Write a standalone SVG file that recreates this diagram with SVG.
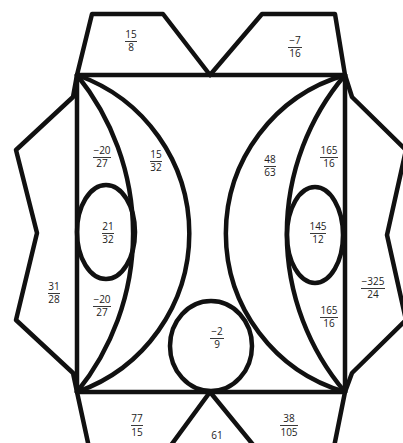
<svg xmlns="http://www.w3.org/2000/svg" width="403" height="443" viewBox="0 0 403 443">
<style>
.ln{fill:none;stroke:#111;stroke-width:4.5;stroke-linejoin:round;stroke-linecap:round}
.t{font-family:"Open Sans","Noto Sans",sans-serif;font-size:10px;fill:#222;text-anchor:middle}
.bar{stroke:#222;stroke-width:0.9}
</style>
<defs>
<clipPath id="c"><rect x="0" y="0" width="403" height="443"/></clipPath>
</defs>
<rect width="403" height="443" fill="#fff"/>
<g id="connectors" clip-path="url(#c)">
<polyline class="ln" points="77,75 92,14 163,14 210,75"/>
<polyline class="ln" points="210,75 262,14 335,14 345,75"/>
<polyline class="ln" points="77,75 73,97 16,150 37,233 16,320 73,373 77,392"/>
<polyline class="ln" points="345,75 352,97 406,150 387,235 406,320 352,373 345,392"/>
<line class="ln" x1="77" y1="392" x2="90" y2="452"/>
<line class="ln" x1="210" y1="392" x2="166" y2="452"/>
<line class="ln" x1="210" y1="392" x2="259" y2="452"/>
<line class="ln" x1="345" y1="392" x2="333" y2="452"/>
<rect class="ln" x="77" y="75" width="268" height="317"/>
<path class="ln" d="M77,75 A252,252 0 0 1 77,392"/>
<path class="ln" d="M77,75 A168,168 0 0 1 77,392"/>
<path class="ln" d="M345,75 A245,245 0 0 0 345,392"/>
<path class="ln" d="M345,75 A165,165 0 0 0 345,392"/>
<ellipse class="ln" cx="106" cy="232" rx="29" ry="47"/>
<ellipse class="ln" cx="315" cy="235" rx="28" ry="48"/>
<ellipse class="ln" cx="211" cy="346" rx="41" ry="45"/>
</g>
<g id="n-top-left"><text class="t" x="131" y="38">15</text><line class="bar" x1="125" y1="41.5" x2="137" y2="41.5"/><text class="t" x="131" y="51">8</text></g>
<g id="n-top-right"><text class="t" x="295" y="44">−7</text><line class="bar" x1="288" y1="47.5" x2="302" y2="47.5"/><text class="t" x="295" y="57">16</text></g>
<g id="n-l1"><text class="t" x="102" y="154">−20</text><line class="bar" x1="93" y1="157.5" x2="111" y2="157.5"/><text class="t" x="102" y="167">27</text></g>
<g id="n-l2"><text class="t" x="156" y="158">15</text><line class="bar" x1="150" y1="161.5" x2="162" y2="161.5"/><text class="t" x="156" y="171">32</text></g>
<g id="n-r2"><text class="t" x="270" y="163">48</text><line class="bar" x1="264" y1="166.5" x2="276" y2="166.5"/><text class="t" x="270" y="176">63</text></g>
<g id="n-r1"><text class="t" x="329" y="154">165</text><line class="bar" x1="320" y1="157.5" x2="338" y2="157.5"/><text class="t" x="329" y="167">16</text></g>
<g id="n-el-left"><text class="t" x="108" y="230">21</text><line class="bar" x1="102" y1="233.5" x2="114" y2="233.5"/><text class="t" x="108" y="243">32</text></g>
<g id="n-el-right"><text class="t" x="318" y="230">145</text><line class="bar" x1="310" y1="233.5" x2="326" y2="233.5"/><text class="t" x="318" y="243">12</text></g>
<g id="n-left"><text class="t" x="54" y="290">31</text><line class="bar" x1="48" y1="293.5" x2="60" y2="293.5"/><text class="t" x="54" y="303">28</text></g>
<g id="n-l3"><text class="t" x="102" y="303">−20</text><line class="bar" x1="93" y1="306.5" x2="111" y2="306.5"/><text class="t" x="102" y="316">27</text></g>
<g id="n-right"><text class="t" x="373" y="285">−325</text><line class="bar" x1="361" y1="288.5" x2="385" y2="288.5"/><text class="t" x="373" y="298">24</text></g>
<g id="n-r3"><text class="t" x="329" y="314">165</text><line class="bar" x1="320" y1="317.5" x2="338" y2="317.5"/><text class="t" x="329" y="327">16</text></g>
<g id="n-circle"><text class="t" x="217" y="335">−2</text><line class="bar" x1="210" y1="338.5" x2="224" y2="338.5"/><text class="t" x="217" y="348">9</text></g>
<g id="n-bottom-left"><text class="t" x="137" y="422">77</text><line class="bar" x1="131" y1="425.5" x2="143" y2="425.5"/><text class="t" x="137" y="436">15</text></g>
<g id="n-bottom-right"><text class="t" x="289" y="422">38</text><line class="bar" x1="280" y1="425.5" x2="298" y2="425.5"/><text class="t" x="289" y="436">105</text></g>
<g id="n-bottom"><text class="t" x="217" y="439">61</text></g>
</svg>
